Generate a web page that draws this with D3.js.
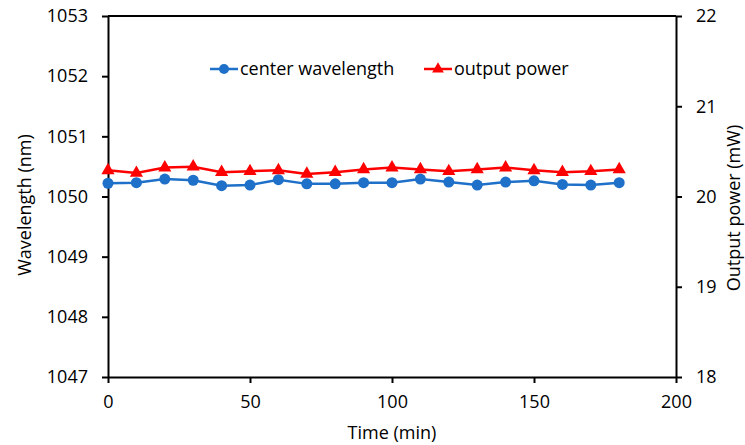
<!DOCTYPE html>
<html>
<head>
<meta charset="utf-8">
<script src="https://cdn.jsdelivr.net/npm/d3@7"></script>
<style>
  body { margin: 0; background: #fff; }
  text { font-family: "Open Sans", sans-serif; fill: #000; }
</style>
</head>
<body>
<svg id="chart" width="745" height="445"></svg>
<script>
// time in minutes
const times = [0, 10, 20, 30, 40, 50, 60, 70, 80, 90, 100, 110, 120, 130, 140, 150, 160, 170, 180];
// center wavelength (nm)
const wavelength = [1050.22, 1050.23, 1050.29, 1050.27, 1050.18, 1050.19, 1050.28, 1050.21, 1050.21, 1050.23,
  1050.23, 1050.29, 1050.24, 1050.19, 1050.24, 1050.26, 1050.20, 1050.19, 1050.23];
// output power (mW)
const power = [20.29, 20.26, 20.32, 20.33, 20.27, 20.28, 20.29, 20.25, 20.27, 20.30,
  20.32, 20.30, 20.28, 20.30, 20.32, 20.29, 20.27, 20.28, 20.30];

const xTicks = [0, 50, 100, 150, 200];
const leftTicks = [1047, 1048, 1049, 1050, 1051, 1052, 1053];
const rightTicks = [18, 19, 20, 21, 22];

const svg = d3.select('#chart');
const margin = { left: 108, top: 16, right: 745 - 676, bottom: 445 - 377 };
const w = 745 - margin.left - margin.right;
const h = 445 - margin.top - margin.bottom;

const x = d3.scaleLinear().domain([0, 200]).range([0, w]);
const yL = d3.scaleLinear().domain([1047, 1053]).range([h, 0]);
const yR = d3.scaleLinear().domain([18, 22]).range([h, 0]);

const g = svg.append('g').attr('transform', `translate(${margin.left},${margin.top})`);

function styleAxis(sel) {
  sel.selectAll('path, line').attr('stroke', '#000').attr('stroke-width', 2);
  sel.selectAll('text').style('font-size', '18px').style('font-family', '"Open Sans", sans-serif');
}

// top border
g.append('line').attr('x1', 0).attr('x2', w).attr('y1', 0).attr('y2', 0)
  .attr('stroke', '#000').attr('stroke-width', 2);

g.append('g').attr('transform', `translate(0,${h})`)
  .call(d3.axisBottom(x).tickValues(xTicks).tickFormat(d3.format('d'))
    .tickSize(6).tickSizeOuter(0).tickPadding(12))
  .call(styleAxis);

g.append('g')
  .call(d3.axisLeft(yL).tickValues(leftTicks).tickFormat(d3.format('d'))
    .tickSize(6).tickSizeOuter(0).tickPadding(14))
  .call(styleAxis);

g.append('g').attr('transform', `translate(${w},0)`)
  .call(d3.axisRight(yR).tickValues(rightTicks).tickFormat(d3.format('d'))
    .tickSize(6).tickSizeOuter(0).tickPadding(14))
  .call(styleAxis);

// series
const blue = '#1f70c8';
const red = '#ff0000';

const lineL = d3.line().x((d, i) => x(times[i])).y(d => yL(d));
const lineR = d3.line().x((d, i) => x(times[i])).y(d => yR(d));

g.append('path').datum(wavelength).attr('d', lineL)
  .attr('fill', 'none').attr('stroke', blue).attr('stroke-width', 2.5);
g.selectAll('.dot').data(wavelength).join('circle')
  .attr('cx', (d, i) => x(times[i])).attr('cy', d => yL(d)).attr('r', 5.5).attr('fill', blue);

const tri = d3.symbol().type(d3.symbolTriangle).size(75);
g.append('path').datum(power).attr('d', lineR)
  .attr('fill', 'none').attr('stroke', red).attr('stroke-width', 2.5);
g.selectAll('.tri').data(power).join('path')
  .attr('d', tri)
  .attr('transform', (d, i) => `translate(${x(times[i])},${yR(d)})`)
  .attr('fill', red);

// legend
const leg = svg.append('g').attr('transform', 'translate(210,69)');
leg.append('line').attr('x1', 0).attr('x2', 28).attr('stroke', blue).attr('stroke-width', 2.5);
leg.append('circle').attr('cx', 14).attr('r', 5).attr('fill', blue);
leg.append('text').attr('x', 30).attr('y', 0).attr('dy', '0.35em').style('font-size', '18px').text('center wavelength');
leg.append('line').attr('x1', 214).attr('x2', 242).attr('stroke', red).attr('stroke-width', 2.5);
leg.append('path').attr('d', d3.symbol().type(d3.symbolTriangle).size(60)).attr('transform', 'translate(228,0)').attr('fill', red);
leg.append('text').attr('x', 244).attr('y', 0).attr('dy', '0.35em').style('font-size', '18px').text('output power');

// axis titles
svg.append('text').attr('x', margin.left + w / 2).attr('y', 433).attr('dy', '0.35em')
  .attr('text-anchor', 'middle').style('font-size', '18px').text('Time (min)');
svg.append('text').attr('transform', 'translate(31,205) rotate(-90)')
  .attr('text-anchor', 'middle').style('font-size', '18px').text('Wavelength (nm)');
svg.append('text').attr('transform', 'translate(740,208) rotate(-90)')
  .attr('text-anchor', 'middle').style('font-size', '18px').text('Output power (mW)');
</script>
</body>
</html>
